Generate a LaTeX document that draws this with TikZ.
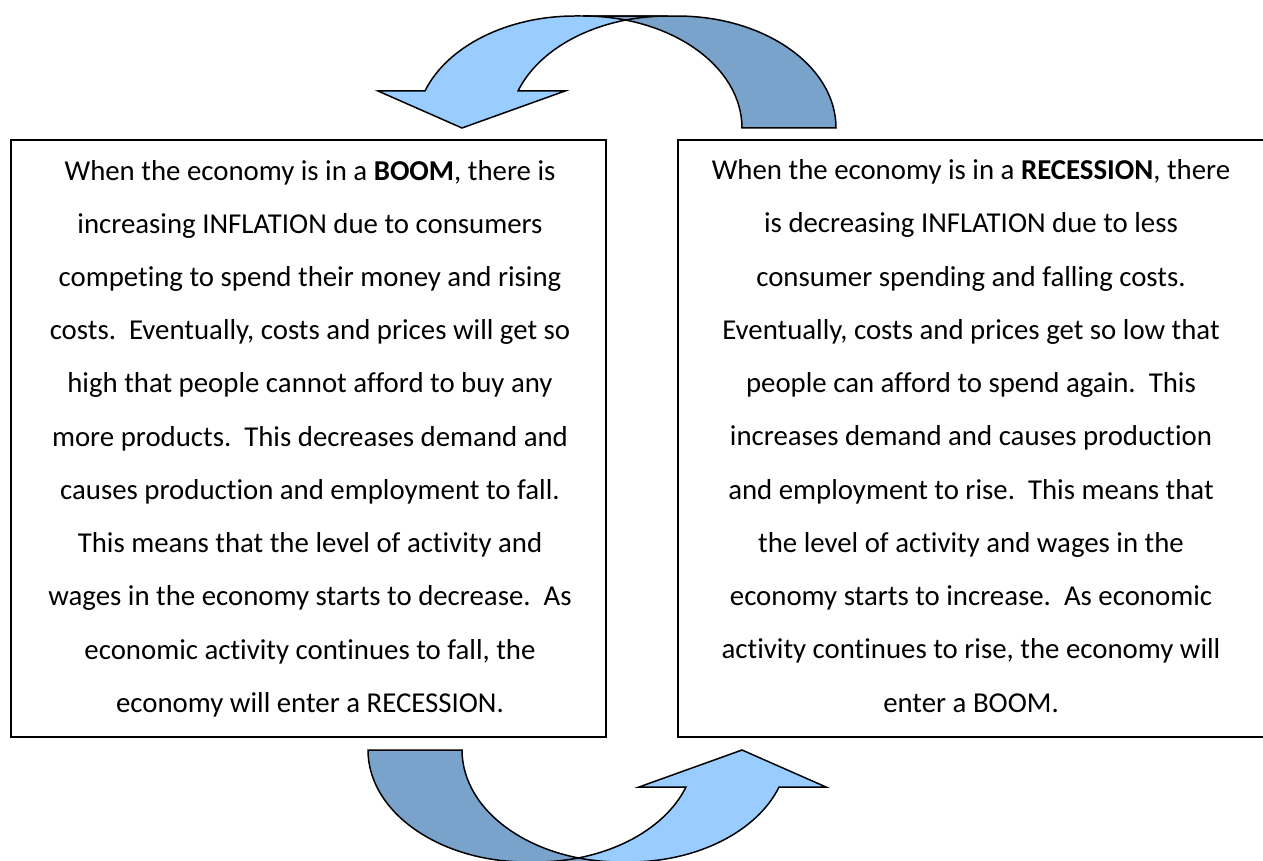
\documentclass[tikz,border=0pt]{standalone}
\usepackage{fontspec}
\setmainfont[Ligatures={NoCommon,NoContextual},Contextuals={NoAlternate}]{Carlito}
\definecolor{lightarrow}{RGB}{153,204,255}
\definecolor{darkarrow}{RGB}{122,163,204}
\begin{document}
\begin{tikzpicture}[x=0.02cm,y=-0.02cm,
  box/.style={draw=black,line width=1.1pt,inner sep=0pt,minimum width=11.9cm,minimum height=11.94cm},
  txt/.style={align=center,font=\fontsize{16.4}{30.3}\selectfont,inner sep=0pt},
  lightfill/.style={fill=lightarrow},
  darkfill/.style={fill=darkarrow},
  outline/.style={draw=black,line width=0.85pt,line join=miter},
  ell/.style={x radius=3.18cm,y radius=2.24cm}]
\useasboundingbox (0,0) rectangle (1263,861);

% boxes
\node[box] (boxL) at (308.5,438.5) {};
\node[box,minimum width=12.2cm] (boxR) at (983,438.5) {};

% texts
\node[txt] (txtL) at (310,438.5) {When the economy is in a \textbf{BOOM}, there is\\
increasing INFLATION due to consumers\\
competing to spend their money and rising\\
costs.\ \ Eventually, costs and prices will get so\\
high that people cannot afford to buy any\\
more products.\ \ This decreases demand and\\
causes production and employment to fall.\\
This means that the level of activity and\\
wages in the economy starts to decrease.\ \ As\\
economic activity continues to fall, the\\
economy will enter a RECESSION.};

\node[txt] (txtR) at (971,436) {When the economy is in a \textbf{RECESSION}, there\\
is decreasing INFLATION due to less\\
consumer spending and falling costs.\\
Eventually, costs and prices get so low that\\
people can afford to spend again.\ \ This\\
increases demand and causes production\\
and employment to rise.\ \ This means that\\
the level of activity and wages in the\\
economy starts to increase.\ \ As economic\\
activity continues to rise, the economy will\\
enter a BOOM.};

% top curved arrow
\path[lightfill] (575,16) arc[start angle=90,end angle=160.7,ell] -- (378,91) -- (462,128) -- (565,91) -- (518,91) arc[start angle=160.7,end angle=90,ell] -- cycle;
\path[darkfill] (836,128) arc[start angle=0,end angle=90,ell] -- (583,16) arc[start angle=90,end angle=0,ell] -- cycle;
\path[outline] (575,16) arc[start angle=90,end angle=160.7,ell] -- (378,91) -- (462,128) -- (565,91) -- (518,91) arc[start angle=160.7,end angle=90,ell] -- cycle;
\path[outline] (836,128) arc[start angle=0,end angle=90,ell] -- (583,16) arc[start angle=90,end angle=0,ell] -- cycle;

% bottom curved arrow
\path[lightfill] (629,862) arc[start angle=270,end angle=340.7,ell] -- (826,787) -- (742,750) -- (639,787) -- (686,787) arc[start angle=340.7,end angle=270,ell] -- cycle;
\path[darkfill] (368,750) arc[start angle=180,end angle=270,ell] -- (621,862) arc[start angle=270,end angle=180,ell] -- cycle;
\path[outline] (629,862) arc[start angle=270,end angle=340.7,ell] -- (826,787) -- (742,750) -- (639,787) -- (686,787) arc[start angle=340.7,end angle=270,ell] -- cycle;
\path[outline] (368,750) arc[start angle=180,end angle=270,ell] -- (621,862) arc[start angle=270,end angle=180,ell] -- cycle;
\end{tikzpicture}
\end{document}
